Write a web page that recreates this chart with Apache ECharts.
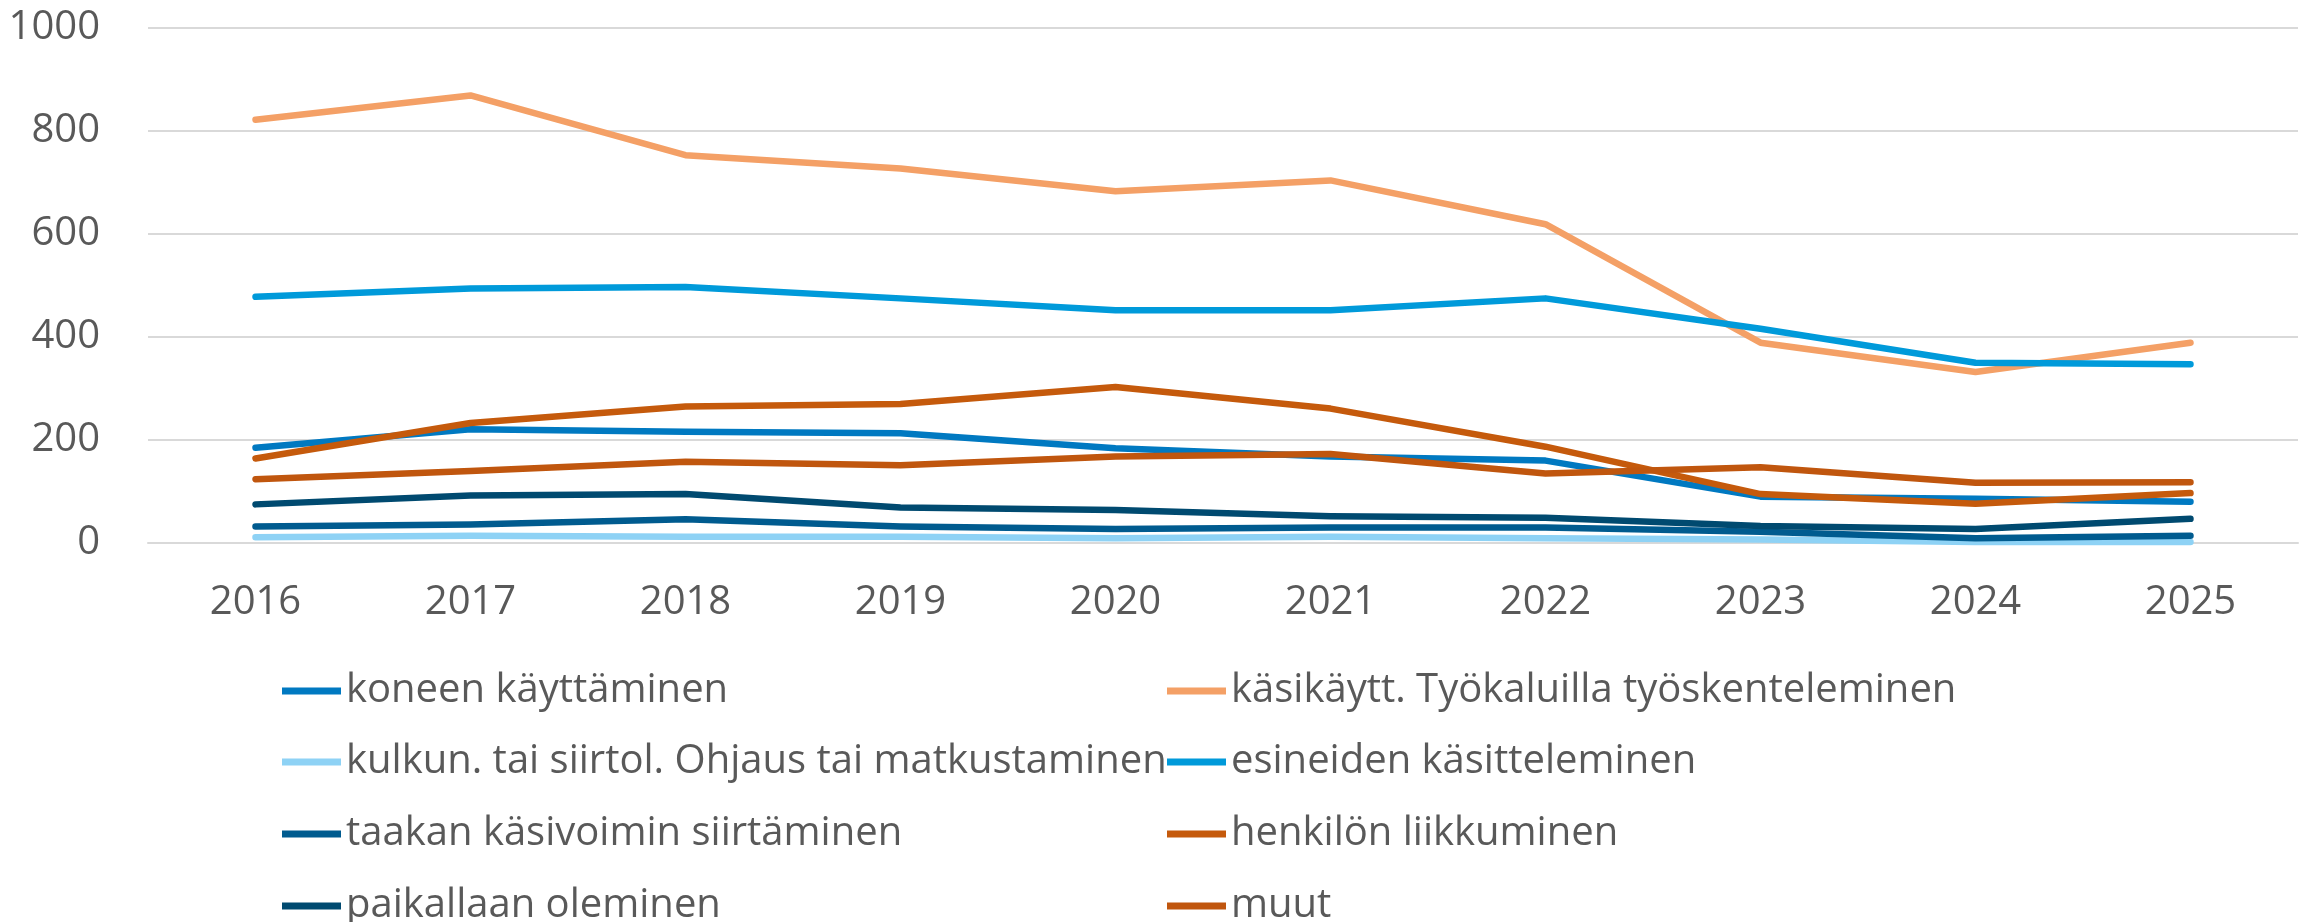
<!DOCTYPE html>
<html>
<head>
<meta charset="utf-8">
<script src="https://cdn.jsdelivr.net/npm/echarts@6/dist/echarts.min.js"></script>
<style>
  html, body { margin: 0; padding: 0; background: #fff; }
  #chart { width: 2311px; height: 922px; }
</style>
</head>
<body>
<div id="chart"></div>
<script>
// vuodet
const years = ['2016', '2017', '2018', '2019', '2020', '2021', '2022', '2023', '2024', '2025'];

// sarjat (luettu kuvasta)
const koneen = [185, 221, 216, 213, 184, 168, 160, 90, 86, 80];
const kasikaytt = [822, 869, 753, 727, 683, 704, 619, 389, 332, 389];
const kulkun = [11, 14, 12, 12, 9, 12, 9, 7, 2, 2];
const esineiden = [478, 494, 497, 475, 452, 452, 475, 416, 350, 347];
const taakan = [32, 36, 46, 32, 27, 30, 30, 22, 9, 14];
const henkilon = [164, 233, 265, 270, 303, 261, 187, 95, 76, 97];
const paikallaan = [75, 92, 95, 69, 64, 52, 49, 33, 27, 47];
const muut = [124, 140, 158, 151, 168, 173, 135, 147, 117, 118];

const names = [
  'koneen käyttäminen',
  'käsikäytt. Työkaluilla työskenteleminen',
  'kulkun. tai siirtol. Ohjaus tai matkustaminen',
  'esineiden käsitteleminen',
  'taakan käsivoimin siirtäminen',
  'henkilön liikkuminen',
  'paikallaan oleminen',
  'muut'
];
const values = [koneen, kasikaytt, kulkun, esineiden, taakan, henkilon, paikallaan, muut];
const colors = ['#0079C1', '#F4A066', '#8ED2F5', '#009ADA', '#005B8F', '#C55A0C', '#004A70', '#C0560E'];

const textColor = '#595959';
const fontFamily = '"Open Sans", "Noto Sans", sans-serif';

const chart = echarts.init(document.getElementById('chart'));

// legenda: kaksi saraketta, neljä riviä (yksi legend per nimi)
const legendLeft = [282, 1167];
const legendTop = [671, 742, 814, 886];
const legends = names.map(function (name, i) {
  return {
    data: [name],
    left: legendLeft[i % 2],
    top: legendTop[Math.floor(i / 2)],
    padding: 0,
    itemWidth: 59,
    itemHeight: 7,
    icon: 'rect',
    textStyle: { color: textColor, fontSize: 40, lineHeight: 36, fontFamily: fontFamily }
  };
});

const option = {
  animation: false,
  color: colors,
  grid: { left: 148, right: 13, top: 28, bottom: 379, containLabel: false },
  legend: legends,
  xAxis: {
    type: 'category',
    data: years,
    boundaryGap: true,
    axisLine: { show: true, lineStyle: { color: '#D9D9D9', width: 2 } },
    axisTick: { show: false },
    axisLabel: { color: textColor, fontSize: 40, margin: 40, fontFamily: fontFamily }
  },
  yAxis: {
    type: 'value',
    min: 0,
    max: 1000,
    interval: 200,
    axisLine: { show: false },
    axisTick: { show: false },
    splitLine: { lineStyle: { color: '#D9D9D9', width: 2 } },
    axisLabel: {
      color: textColor, fontSize: 40, margin: 48, fontFamily: fontFamily,
      formatter: function (v) { return String(v); }
    }
  },
  series: names.map(function (name, i) {
    return {
      name: name,
      type: 'line',
      data: values[i],
      showSymbol: false,
      itemStyle: { color: colors[i] },
      lineStyle: { color: colors[i], width: 6.5, cap: 'round', join: 'round' }
    };
  })
};

chart.setOption(option);
</script>
</body>
</html>
